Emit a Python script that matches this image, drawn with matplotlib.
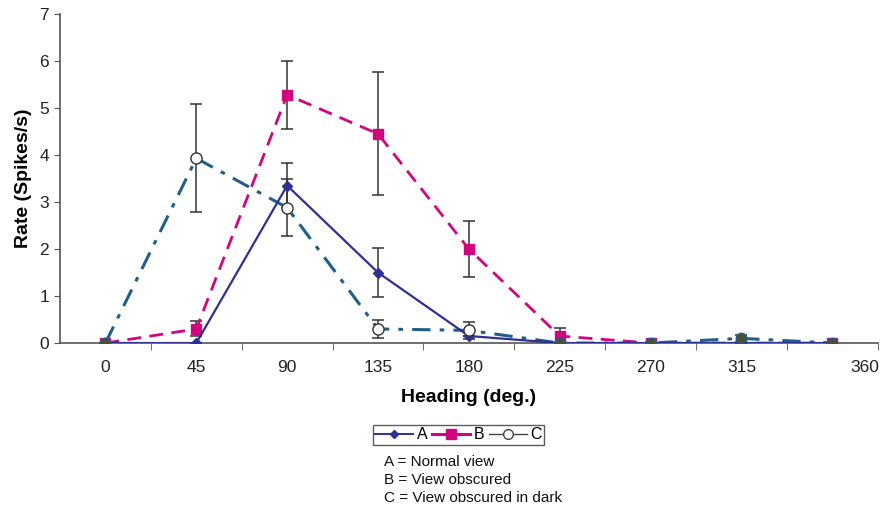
import matplotlib
matplotlib.use("Agg")
import numpy as np
import matplotlib.pyplot as plt
from matplotlib.lines import Line2D

plt.rcParams["font.family"] = ["Liberation Sans", "DejaVu Sans"]

# Heading categories (deg.)
headings = [0, 45, 90, 135, 180, 225, 270, 315, 360]
tick_labels = ["0", "45", "90", "135", "180", "225", "270", "315", "360"]

# A = Normal view
rate_a = [0, 0, 3.35, 1.5, 0.15, 0, 0, 0, 0]
err_a = [0, 0, 0.48, 0.52, 0.0, 0, 0, 0, 0]
# B = View obscured
rate_b = [0, 0.3, 5.28, 4.45, 2.0, 0.15, 0, 0, 0]
err_b = [0, 0.16, 0.73, 1.31, 0.6, 0.18, 0, 0, 0]
# C = View obscured in dark
rate_c = [0, 3.93, 2.88, 0.3, 0.27, 0, 0, 0.1, 0]
err_c = [0, 1.15, 0.6, 0.2, 0.18, 0, 0, 0.08, 0]

COL_A = "#2e3192"
COL_B = "#d1067f"
COL_C = "#1f5f8a"
COL_DOT = "#4b5034"

fig = plt.figure(figsize=(8.85, 5.09), dpi=100)
ax = fig.add_axes([0.0678, 0.326, 0.924, 0.6465])

x = np.array(headings)

# error bars
for r, e in ((rate_b, err_b), (rate_c, err_c), (rate_a, err_a)):
    ax.errorbar(x, r, yerr=e, fmt="none", ecolor="#333333", elinewidth=1.1,
                capsize=4, capthick=1.1, zorder=2)

ax.plot(x, rate_c, color=COL_C, lw=2.2, linestyle=(0, (6, 3, 1.5, 3)), zorder=3)
ax.plot(x, rate_b, color=COL_B, lw=2.0, linestyle=(0, (5, 3)), marker="s",
        ms=7, mfc=COL_B, mec=COL_B, zorder=4)
ax.plot(x, rate_a, color=COL_A, lw=1.6, marker="D", ms=5, mfc=COL_A, mec=COL_A, zorder=5)

# C markers: open where the series is off zero, dark where the lines overlap
open_idx = [1, 2, 3, 4]
dark_idx = [i for i in range(len(x)) if i not in open_idx]
ax.plot(x[open_idx], np.array(rate_c)[open_idx], linestyle="none", marker="o", ms=8,
        mfc="white", mec="#333333", mew=1.0, zorder=6)
ax.plot(x[dark_idx], np.array(rate_c)[dark_idx], linestyle="none", marker="o", ms=7.5,
        mfc=COL_DOT, mec=COL_C, mew=1.0, zorder=6)

ax.set_xlim(-22.5, 382.5)
ax.set_ylim(0, 7)
ax.set_yticks(range(0, 8))

label_pos = headings[:-1] + [376]
ax.set_xticks(label_pos)
ax.set_xticklabels(tick_labels)
ax.tick_params(axis="x", length=0, pad=12, labelsize=12.5, colors="#222222")
ax.set_xticks([h + 22.5 for h in headings], minor=True)
ax.tick_params(axis="x", which="minor", length=5, direction="out", color="#555555")
ax.tick_params(axis="y", length=4, direction="out", labelsize=12.5, colors="#222222",
               pad=4, color="#555555")

for side in ("top", "right"):
    ax.spines[side].set_visible(False)
for side in ("left", "bottom"):
    ax.spines[side].set_color("#555555")
    ax.spines[side].set_linewidth(1.2)

ax.set_xlabel("Heading (deg.)", fontsize=14, fontweight="bold", labelpad=10)
ax.set_ylabel("Rate (Spikes/s)", fontsize=14, fontweight="bold", labelpad=5)

handles = [
    Line2D([], [], color=COL_A, lw=1.4, marker="D", ms=4),
    Line2D([], [], color=COL_B, lw=2.2, marker="s", ms=7),
    Line2D([], [], color="#444444", lw=1.0, marker="o", ms=7, mfc="white", mec="#444444"),
]
leg = fig.legend(handles, ["A", "B", "C"], loc="center", ncol=3,
                 bbox_to_anchor=(0.518, 0.146), frameon=True, fancybox=False,
                 fontsize=11.5, handlelength=2.4, handletextpad=0.2, columnspacing=0.3,
                 borderpad=0.15, borderaxespad=0)
leg.get_frame().set_edgecolor("#333333")
leg.get_frame().set_linewidth(1.0)

notes = ["A = Normal view", "B = View obscured", "C = View obscured in dark"]
for i, t in enumerate(notes):
    fig.text(0.434, 1 - (462 + 18 * i) / 509, t, fontsize=11, color="#111111",
             va="center", ha="left")

fig.savefig("out.png", dpi=100)
